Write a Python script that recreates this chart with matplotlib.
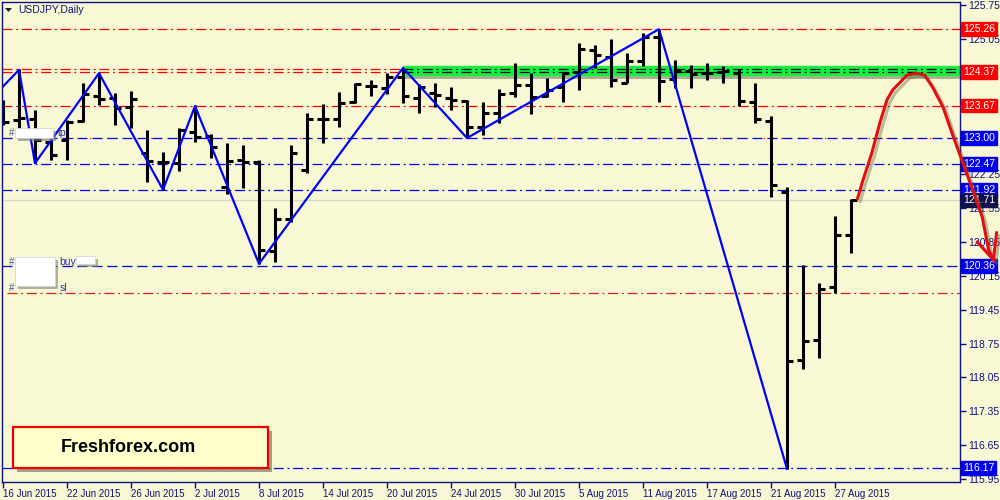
import matplotlib
matplotlib.use('Agg')
import matplotlib.pyplot as plt
from matplotlib.patches import Rectangle, Polygon
import matplotlib.patheffects as pe

plt.rcParams['font.family'] = ['Liberation Sans', 'DejaVu Sans']

# daily USDJPY bars, 16 Jun 2015 -> 28 Aug 2015 (one per trading day)
opens = [123.55, 123.37, 123.39, 122.92, 122.96, 123.35, 123.87, 123.83, 123.64, 122.69,
         122.50, 122.48, 123.12, 123.04, 121.99, 122.55, 122.50, 120.66, 121.33, 122.34,
         123.39, 123.39, 123.74, 124.08, 124.03, 124.26, 123.83, 123.93, 123.83, 123.77,
         123.23, 123.52, 123.93, 124.10, 123.87, 124.05, 124.36, 124.82, 124.67, 124.14,
         124.59, 125.09, 124.22, 124.39, 124.34, 124.36, 124.34, 123.74, 123.35, 121.88,
         118.41, 118.82, 119.92, 120.99]
highs = [123.79, 124.43, 123.58, 123.00, 123.37, 124.14, 124.34, 123.93, 123.97, 123.17,
         122.71, 123.21, 123.68, 123.08, 122.90, 122.86, 122.55, 121.55, 122.86, 123.52,
         123.70, 123.95, 124.14, 124.20, 124.34, 124.45, 124.12, 124.14, 124.05, 123.79,
         123.74, 124.01, 124.55, 124.34, 124.24, 124.36, 124.96, 124.92, 125.05, 124.76,
         125.17, 125.25, 124.61, 124.51, 124.55, 124.49, 124.43, 124.14, 123.45, 121.99,
         120.38, 120.00, 121.39, 121.74]
lows = [123.27, 123.21, 122.48, 122.54, 122.54, 123.33, 123.68, 123.27, 123.21, 122.09,
        121.93, 122.32, 122.92, 122.59, 121.84, 121.97, 120.40, 120.44, 121.26, 122.28,
        122.90, 123.23, 123.72, 123.87, 123.91, 123.72, 123.52, 123.64, 123.58, 123.00,
        123.06, 123.31, 123.85, 123.50, 123.85, 123.74, 123.99, 124.45, 124.05, 124.14,
        124.49, 123.74, 124.03, 124.03, 124.20, 124.14, 123.66, 123.31, 121.78, 116.16,
        118.22, 118.45, 119.80, 120.62]
closes = [123.33, 123.41, 122.96, 122.65, 123.33, 123.91, 123.81, 123.62, 123.81, 122.53,
          122.50, 123.17, 123.02, 122.81, 122.52, 122.50, 120.69, 121.33, 122.69, 123.39,
          123.39, 123.72, 124.12, 124.08, 124.26, 123.87, 124.05, 123.89, 123.79, 123.23,
          123.52, 123.91, 124.10, 123.85, 124.00, 124.34, 124.84, 124.72, 124.20, 124.59,
          125.09, 124.18, 124.39, 124.32, 124.34, 124.39, 123.77, 123.39, 122.03, 118.39,
          118.80, 119.88, 120.99, 121.71]

date_ticks = [0, 4, 8, 12, 16, 20, 24, 28, 32, 36, 40, 44, 48, 52]
date_labels = ['16 Jun 2015', '22 Jun 2015', '26 Jun 2015', '2 Jul 2015', '8 Jul 2015',
               '14 Jul 2015', '20 Jul 2015', '24 Jul 2015', '30 Jul 2015', '5 Aug 2015',
               '11 Aug 2015', '17 Aug 2015', '21 Aug 2015', '27 Aug 2015']
price_ticks = [125.75, 125.05, 124.35, 123.65, 122.95, 122.25, 121.55, 120.85, 120.15,
               119.45, 118.75, 118.05, 117.35, 116.65, 115.95]
# these tick labels sit fully behind the level boxes in the terminal
hidden_ticks = [124.35, 123.65, 122.95]

# zigzag swing points (bar, price)
zz_bar = [-1, 1, 2, 6, 10, 12, 16, 25, 29, 41, 49]
zz_price = [123.72, 124.41, 122.48, 124.34, 121.93, 123.66, 120.40, 124.45, 123.00, 125.25, 116.16]

# hand drawn forecast arrow (bar, price)
fc_bar = [53.4, 53.75, 54.3, 54.8, 55.25, 55.6, 56.5, 57.1, 57.6, 58.1, 58.75, 59.4,
          60.0, 60.6, 61.2, 61.6, 61.9]
fc_price = [121.74, 122.13, 122.69, 123.31, 123.79, 123.99, 124.30, 124.34, 124.30,
            124.05, 123.64, 123.02, 122.48, 121.93, 121.37, 120.69, 120.48]

# price labels on the right
lvl_price = [125.26, 124.37, 123.67, 123.00, 122.47, 121.92, 121.71, 120.36, 116.17]
lvl_box = ['#ff0000', '#ff0000', '#ff0000', '#0000ee', '#0000ee', '#0000ee', '#10104a',
           '#0000ee', '#0000ee']

navy = '#101080'
bg = '#f8f8d4'
red = '#ff0000'
blue = '#0000ff'
dashdot = (0, (8, 3, 1.5, 3))
dashed = (0, (8, 4))


def fx(x):
    return x / 1000


def fy(y):
    return 1 - y / 500


fig = plt.figure(figsize=(10, 5), dpi=100)
fig.patch.set_facecolor(bg)
ax = fig.add_axes([0.002, 0.036, 0.958, 0.96])
ax.set_facecolor(bg)
ax.set_xlim(-0.0625, 59.8125)
ax.set_ylim(115.888, 125.812)

for s in ax.spines.values():
    s.set_color(navy)
    s.set_linewidth(1)

# horizontal levels
ax.axhline(125.26, color=red, lw=0.9, ls=dashdot, zorder=1)
ax.axhline(124.42, color=red, lw=0.9, ls=dashdot, zorder=1)
ax.axhline(124.37, color=red, lw=0.9, ls=dashdot, zorder=1)
ax.axhline(123.67, color=red, lw=0.9, ls=dashdot, zorder=1)
ax.axhline(123.00, color=red, lw=0.9, ls=(0, (1, 6)), zorder=1)
ax.axhline(123.00, color=blue, lw=0.9, ls=dashed, zorder=1.1)
ax.axhline(122.47, color=blue, lw=0.9, ls=dashdot, zorder=1)
ax.axhline(121.92, color=blue, lw=0.9, ls=dashdot, zorder=1)
ax.axhline(121.71, color='#d8d8d0', lw=1, zorder=1)
ax.axhline(120.36, color='#20c020', lw=0.9, ls=(0, (1, 5)), zorder=1)
ax.axhline(120.36, color=blue, lw=0.9, ls=dashed, zorder=1.1)
ax.axhline(119.80, xmin=0.005, color='#e02020', lw=0.9, ls=dashdot, zorder=1)
ax.axhline(116.17, color=blue, lw=0.9, ls=dashdot, zorder=1)

# green resistance band
band = ax.axhspan(124.30, 124.49, xmin=0.4186, xmax=1, color='#14f040', zorder=1.5,
                  path_effects=[pe.SimplePatchShadow(offset=(0, -3), shadow_rgbFace='#555540',
                                                     alpha=0.45), pe.Normal()])
ax.hlines([124.42, 124.37], 25.0, 59.8125, colors='black', lw=0.9, linestyles=[dashdot],
          zorder=1.6)

# OHLC bars
idx = list(range(len(opens)))
tick = 0.36
ax.vlines(idx, lows, highs, color='black', lw=2.2, zorder=2.2)
ax.hlines(opens, [i - tick for i in idx], idx, color='black', lw=2.2, zorder=2.2)
ax.hlines(closes, idx, [i + tick for i in idx], color='black', lw=2.2, zorder=2.2)

# zigzag
ax.plot(zz_bar, zz_price, color=blue, lw=1.6, zorder=2.5)

# forecast arrow
shadow = [pe.SimpleLineShadow(offset=(2, -2), shadow_color='#606040', alpha=0.4), pe.Normal()]
ax.plot(fc_bar, fc_price, color='#e01010', lw=2.2, clip_on=False, zorder=6,
        solid_capstyle='round', path_effects=shadow)
ax.plot([60.9, fc_bar[-1], 62.1], [120.85, fc_price[-1], 121.04], color='#e01010', lw=2.2,
        clip_on=False, zorder=6, solid_joinstyle='miter', path_effects=shadow)

# axes ticks
ax.yaxis.tick_right()
ax.set_yticks(price_ticks)
ax.set_yticklabels(['' if p in hidden_ticks else f'{p:.2f}' for p in price_ticks])
ax.tick_params(axis='y', direction='out', length=4, width=1, color=navy, labelcolor=navy,
               labelsize=7.5, pad=2)
ax.set_xticks(date_ticks)
ax.set_xticklabels(date_labels, ha='left')
ax.tick_params(axis='x', direction='out', length=4, width=1, color=navy, labelcolor=navy,
               labelsize=7, pad=1)

# right side price boxes
for p, c in zip(lvl_price, lvl_box):
    ax.text(1.0035, p, f'{p:.2f}', transform=ax.get_yaxis_transform(), ha='left',
            va='center', fontsize=7.5, color='white', clip_on=False, zorder=5,
            bbox=dict(boxstyle='square,pad=0.18', fc=c, ec=c))

# title
fig.text(fx(18), fy(10), 'USDJPY,Daily', fontsize=7.5, color=navy, va='center')
fig.add_artist(Polygon([(fx(5), fy(8)), (fx(12), fy(8)), (fx(8.5), fy(12))],
                       closed=True, transform=fig.transFigure, fc='#202040', ec='none'))

# order labels (masked)
for y, lab, lx in [(133, 'tp', 58), (262, 'buy', 59), (288, 'sl', 60)]:
    fig.text(fx(9), fy(y), '#', fontsize=7, color='#5050a0', va='center')
    fig.text(fx(lx), fy(y), lab, fontsize=7.5, color='#3030b0', va='center')

box_shadow = [pe.SimplePatchShadow(offset=(2, -2), shadow_rgbFace='#808080', alpha=0.6),
              pe.Normal()]
for x0, y0, x1, y1 in [(15, 128, 53, 138), (15, 257, 55, 286), (76, 256, 95, 264)]:
    fig.add_artist(Rectangle((fx(x0), fy(y1)), fx(x1 - x0), (y1 - y0) / 500,
                             transform=fig.transFigure, fc='white', ec='#d0d0d0', lw=0.5,
                             zorder=7, path_effects=box_shadow))

# watermark box
fig.add_artist(Rectangle((fx(13), fy(468)), fx(255), 41 / 500, transform=fig.transFigure,
                         fc='#ffffcc', ec='#ee0000', lw=1.6, zorder=7,
                         path_effects=[pe.SimplePatchShadow(offset=(3, -3), alpha=0.5),
                                       pe.Normal()]))
fig.text(fx(128), fy(447), 'Freshforex.com', fontsize=13, fontweight='bold', color='black',
         ha='center', va='center', zorder=8)

fig.savefig('out.png', dpi=100, facecolor=bg)
